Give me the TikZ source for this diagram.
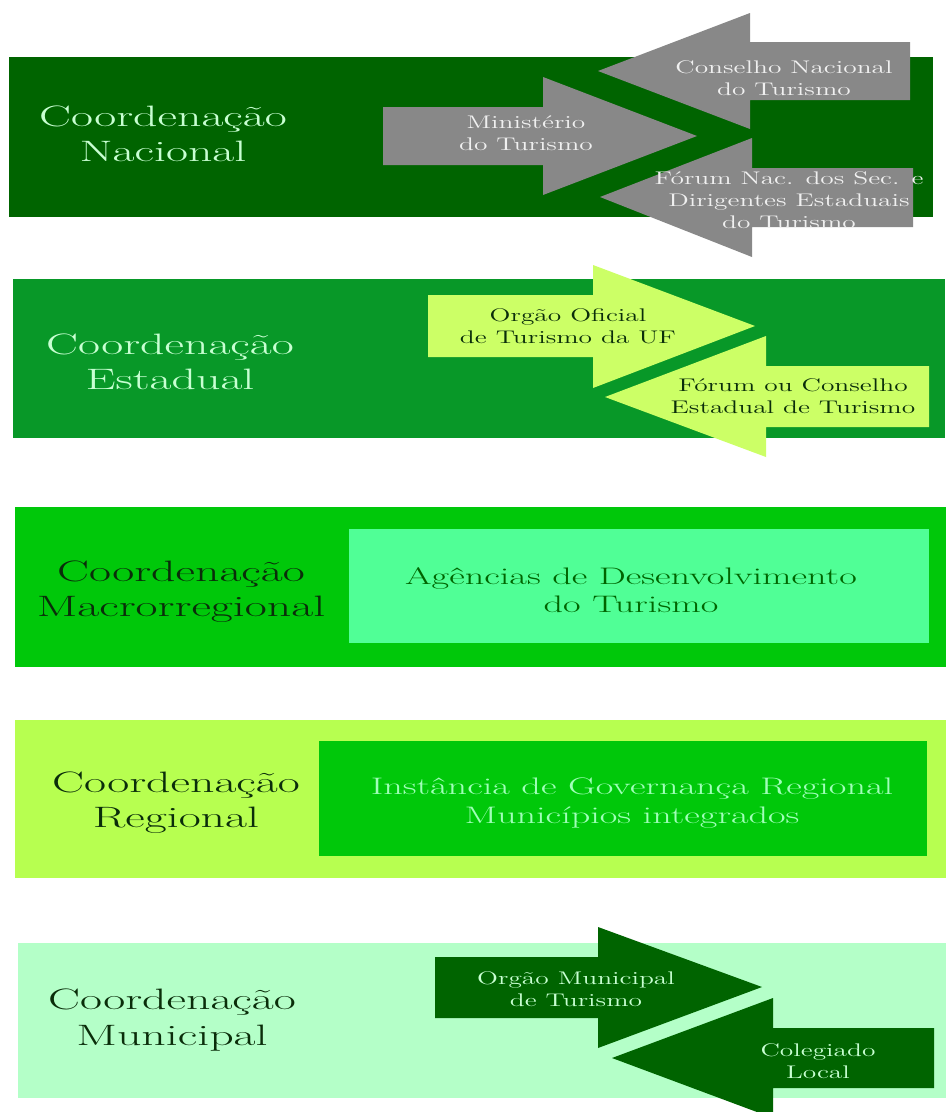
\documentclass[tikz,border=0pt]{standalone}
\usepackage{tikz}
\definecolor{white}{RGB}{255,255,255}
\definecolor{dark_green}{RGB}{0,100,0}
\definecolor{mid_green}{RGB}{8,152,40}
\definecolor{bright_green}{RGB}{0,200,10}
\definecolor{lime_green}{RGB}{183,255,80}
\definecolor{pale_mint}{RGB}{180,255,200}
\definecolor{aqua_green}{RGB}{80,255,150}
\definecolor{light_lime}{RGB}{204,255,102}
\definecolor{arrow_grey}{RGB}{136,136,136}
\definecolor{mint_text}{RGB}{200,255,210}
\definecolor{soft_text}{RGB}{160,255,185}
\definecolor{deep_green}{RGB}{10,45,10}
\definecolor{grey_text}{RGB}{240,240,240}

\begin{document}
\begin{tikzpicture}[x=0.025cm,y=-0.025cm,
	level/.style={align=center,xscale=1.62,font=\fontsize{21}{25}\selectfont},
	inner/.style={align=center,xscale=1.5,font=\fontsize{13}{15.4}\selectfont},
	boxtext/.style={align=center,xscale=1.6,font=\fontsize{17}{20.3}\selectfont}]
	\useasboundingbox[fill=white] (0,0) rectangle (946,1112);
	
	% bands
	\foreach \xa/\ya/\xb/\yb/\col in {9/57/933/217/dark_green,13/279/945/438/mid_green,15/507/946/667/bright_green,15/720/946/878/lime_green,18/943/946/1098/pale_mint}
		\fill[\col] (\xa,\ya) rectangle (\xb,\yb);
	
	% nacional
	\fill[arrow_grey] (383,107) -- (543,107) -- (543,77) -- (697,136) -- (543,195) -- (543,165) -- (383,165) -- cycle;
	\fill[arrow_grey] (910,42) -- (750,42) -- (750,13) -- (598,71) -- (750,129) -- (750,100) -- (910,100) -- cycle;
	\fill[arrow_grey] (913,168) -- (752,168) -- (752,138) -- (600,197) -- (752,257) -- (752,227) -- (913,227) -- cycle;
	\node[level,text=mint_text] (nacional) at (163,134) {Coordenação\\Nacional};
	\node[inner,text=grey_text] (ministerio) at (526,133) {Ministério\\do Turismo};
	\node[inner,text=grey_text] (conselho) at (784,78) {Conselho Nacional\\do Turismo};
	\node[inner,text=grey_text] (forum) at (789,200) {Fórum Nac. dos Sec. e\\Dirigentes Estaduais\\do Turismo};
	
	% estadual
	\fill[light_lime] (428,295) -- (593,295) -- (593,265) -- (755,326) -- (593,388) -- (593,357) -- (428,357) -- cycle;
	\fill[light_lime] (929,366) -- (766,366) -- (766,336) -- (605,397) -- (766,457) -- (766,427) -- (929,427) -- cycle;
	\node[level,text=mint_text] (estadual) at (170,362) {Coordenação\\Estadual};
	\node[inner,text=deep_green] (orgao_uf) at (568,326) {Orgão Oficial\\de Turismo da UF};
	\node[inner,text=deep_green] (forum_uf) at (793,396) {Fórum ou Conselho\\Estadual de Turismo};
	
	% macrorregional
	\fill[aqua_green] (349,529) rectangle (929,643);
	\node[level,text=deep_green] (macro) at (181,592) {Coordenação\\Macrorregional};
	\node[boxtext,text=dark_green] (agencias) at (631,590) {Agências de Desenvolvimento\\do Turismo};
	
	% regional
	\fill[bright_green] (319,741) rectangle (927,856);
	\node[level,text=deep_green] (regional) at (176,803) {Coordenação\\Regional};
	\node[boxtext,text=soft_text] (instancia) at (632,803) {Instância de Governança Regional\\Municípios integrados};
	
	% municipal
	\fill[dark_green] (435,957) -- (598,957) -- (598,927) -- (762,987) -- (598,1048) -- (598,1018) -- (435,1018) -- cycle;
	\fill[dark_green] (934,1028) -- (773,1028) -- (773,998) -- (612,1058) -- (773,1118) -- (773,1088) -- (934,1088) -- cycle;
	\node[level,text=deep_green] (municipal) at (172,1020) {Coordenação\\Municipal};
	\node[inner,text=mint_text] (orgao_mun) at (576,989) {Orgão Municipal\\de Turismo};
	\node[inner,text=mint_text] (colegiado) at (818,1061) {Colegiado\\Local};
\end{tikzpicture}
\end{document}
